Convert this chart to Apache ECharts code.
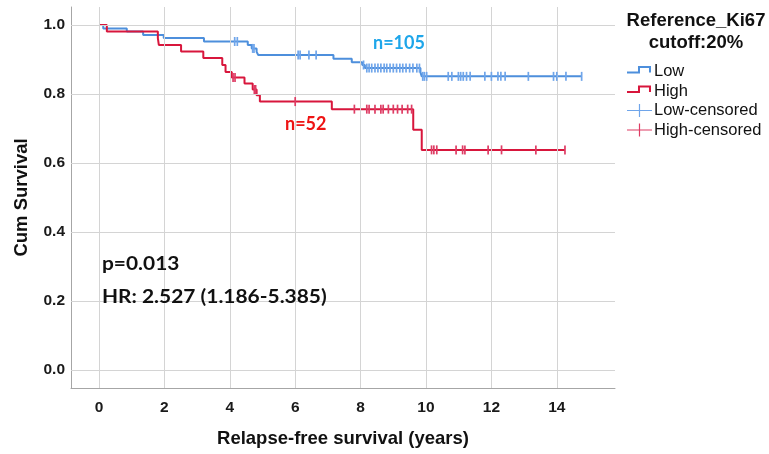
<!DOCTYPE html>
<html>
<head>
<meta charset="utf-8">
<script src="https://cdn.jsdelivr.net/npm/echarts@6/dist/echarts.min.js"></script>
<style>
  html, body { margin: 0; padding: 0; background: #ffffff; }
  #chart { width: 769px; height: 454px; }
</style>
</head>
<body>
<div id="chart"></div>
<script>
// ---- Data ----
const xTicks = [0, 2, 4, 6, 8, 10, 12, 14];
const yTicks = [0.0, 0.2, 0.4, 0.6, 0.8, 1.0];

// Kaplan-Meier steps: time (years) and survival after the event at that time
const lowTimes = [0, 0.13, 0.85, 1.35, 1.98, 3.21, 4.55, 4.67, 4.82, 4.87, 7.17, 7.73, 8.05, 8.13, 9.83, 9.87, 14.76];
const lowSurv  = [1.0, 0.990, 0.981, 0.971, 0.962, 0.952, 0.942, 0.932, 0.922, 0.913, 0.902, 0.892, 0.884, 0.875, 0.863, 0.851, 0.851];

const highTimes = [0, 0.24, 1.80, 1.83, 2.51, 3.19, 3.77, 3.87, 4.06, 4.45, 4.70, 4.82, 4.92, 7.12, 9.61, 9.87, 14.25];
const highSurv  = [1.0, 0.981, 0.962, 0.942, 0.923, 0.904, 0.884, 0.864, 0.848, 0.830, 0.813, 0.796, 0.778, 0.756, 0.696, 0.638, 0.638];

// Censoring times
const lowCensor = [4.15, 4.23, 4.70, 4.74, 6.09, 6.15, 6.42, 6.64, 8.09, 8.19, 8.26, 8.34, 8.44, 8.53, 8.62, 8.72, 8.80, 8.90, 9.00, 9.10, 9.20, 9.29, 9.39, 9.50, 9.60, 9.72, 9.80, 9.90, 9.95, 10.02, 10.68, 10.79, 10.99, 11.06, 11.14, 11.24, 11.35, 11.80, 12.00, 12.20, 12.29, 12.42, 13.13, 13.90, 14.00, 14.28, 14.76];
const highCensor = [4.10, 4.16, 4.75, 4.79, 6.00, 7.81, 8.19, 8.26, 8.44, 8.62, 8.69, 8.85, 9.00, 9.13, 9.27, 9.44, 9.56, 10.17, 10.24, 10.33, 10.92, 11.12, 11.19, 11.90, 12.31, 13.36, 14.25];

const legendNames = ['Low', 'High', 'Low-censored', 'High-censored'];

// ---- helpers ----
function survAt(times, surv, t) {
  let s = surv[0];
  for (let i = 0; i < times.length; i++) { if (times[i] <= t) s = surv[i]; }
  return s;
}
const pairs = (ts, ss) => ts.map((t, i) => [t, ss[i]]);

const BLUE = '#4d8fdc', RED = '#d8163c';
const BLUE_C = '#6fa5ea', RED_C = '#de3c64';

const stepIcon = 'path://M0,0h0.01v0.01h-0.01z M25,14h0.01v0.01h-0.01z M0,7H11V1.5H24V8H22V3.5H13V9H0Z';
const crossIcon = 'path://M0,0h0.01v0.01h-0.01z M25,14h0.01v0.01h-0.01z M0,6.4H25V7.6H0Z M11.9,0.5H13.1V13.5H11.9Z';

const chart = echarts.init(document.getElementById('chart'), null, { renderer: 'canvas' });

const option = {
  animation: false,
  backgroundColor: '#ffffff',
  grid: { left: 71, right: 154, top: 7, bottom: 66, containLabel: false },
  xAxis: {
    type: 'value', min: -0.856, max: 15.78,
    name: 'Relapse-free survival (years)', nameLocation: 'middle', nameGap: 41,
    nameTextStyle: { fontFamily: 'Liberation Sans', fontWeight: 'bold', fontSize: 18.5, color: '#111' },
    axisLine: { show: true, onZero: false, lineStyle: { color: '#a6a6a6', width: 1 } },
    axisTick: { show: false },
    splitLine: { show: false },
    axisLabel: { customValues: xTicks, margin: 12, fontFamily: 'Liberation Sans', fontWeight: 'bold', fontSize: 15.5, color: '#1a1a1a' }
  },
  yAxis: {
    type: 'value', min: -0.052, max: 1.052,
    name: 'Cum Survival', nameLocation: 'middle', nameGap: 40,
    nameTextStyle: { fontFamily: 'Liberation Sans', fontWeight: 'bold', fontSize: 18.5, color: '#111' },
    axisLine: { show: true, onZero: false, lineStyle: { color: '#a6a6a6', width: 1 } },
    axisTick: { show: false },
    splitLine: { show: false },
    axisLabel: { customValues: yTicks, margin: 6, formatter: v => Number(v).toFixed(1), fontFamily: 'Liberation Sans', fontWeight: 'bold', fontSize: 15.5, color: '#1a1a1a' }
  },
  legend: {
    orient: 'vertical', left: 627, top: 63, padding: 0,
    itemWidth: 25, itemHeight: 14, itemGap: 2.5,
    textStyle: { fontFamily: 'Liberation Sans', fontSize: 16.5, color: '#111', padding: [0, 0, 0, -3] },
    selectedMode: false,
    data: [
      { name: 'Low', icon: stepIcon },
      { name: 'High', icon: stepIcon },
      { name: 'Low-censored', icon: crossIcon },
      { name: 'High-censored', icon: crossIcon }
    ]
  },
  graphic: [
    { type: 'text', x: 696, y: 21, style: { text: 'Reference_Ki67', align: 'center', verticalAlign: 'middle', fontFamily: 'Liberation Sans', fontWeight: 'bold', fontSize: 18.5, fill: '#111' } },
    { type: 'text', x: 696, y: 43, style: { text: 'cutoff:20%', align: 'center', verticalAlign: 'middle', fontFamily: 'Liberation Sans', fontWeight: 'bold', fontSize: 18.5, fill: '#111' } },
    { type: 'text', x: 373, y: 43, z: 10, style: { text: 'n=105', align: 'left', verticalAlign: 'middle', fontFamily: 'Lato', fontWeight: 'bold', fontSize: 18, fill: '#1ea6ea' } },
    { type: 'text', x: 285, y: 124, z: 10, style: { text: 'n=52', align: 'left', verticalAlign: 'middle', fontFamily: 'Lato', fontWeight: 'bold', fontSize: 18, fill: '#ee1414' } },
    { type: 'text', x: 102, y: 264, z: 10, scaleX: 1.1, style: { text: 'p=0.013', align: 'left', verticalAlign: 'middle', fontFamily: 'Lato', fontWeight: 'bold', fontSize: 19, fill: '#111' } },
    { type: 'text', x: 102, y: 296.5, z: 10, scaleX: 1.1, style: { text: 'HR: 2.527 (1.186-5.385)', align: 'left', verticalAlign: 'middle', fontFamily: 'Lato', fontWeight: 'bold', fontSize: 19, fill: '#111' } }
  ],
  series: [
    {
      name: '__grid', type: 'line', data: [], silent: true, z: 1,
      markLine: {
        silent: true, symbol: ['none', 'none'], label: { show: false }, animation: false,
        lineStyle: { color: '#d4d4d4', width: 1, type: 'solid' },
        emphasis: { disabled: true },
        data: xTicks.map(v => ({ xAxis: v })).concat(yTicks.map(v => ({ yAxis: v })))
      }
    },
    {
      name: 'Low', type: 'line', step: 'end', z: 3,
      data: pairs(lowTimes, lowSurv),
      showSymbol: false, symbol: 'none',
      itemStyle: { color: BLUE }, lineStyle: { color: BLUE, width: 2 }
    },
    {
      name: 'High', type: 'line', step: 'end', z: 4,
      data: pairs(highTimes, highSurv),
      showSymbol: false, symbol: 'none',
      itemStyle: { color: RED }, lineStyle: { color: RED, width: 2 }
    },
    {
      name: 'Low-censored', type: 'scatter', z: 5,
      symbol: 'rect', symbolSize: [1.7, 9],
      itemStyle: { color: BLUE_C, opacity: 1 },
      data: lowCensor.map(t => [t, survAt(lowTimes, lowSurv, t)])
    },
    {
      name: 'High-censored', type: 'scatter', z: 6,
      symbol: 'rect', symbolSize: [1.7, 9],
      itemStyle: { color: RED_C, opacity: 1 },
      data: highCensor.map(t => [t, survAt(highTimes, highSurv, t)])
    }
  ]
};
chart.setOption(option);
</script>
</body>
</html>
